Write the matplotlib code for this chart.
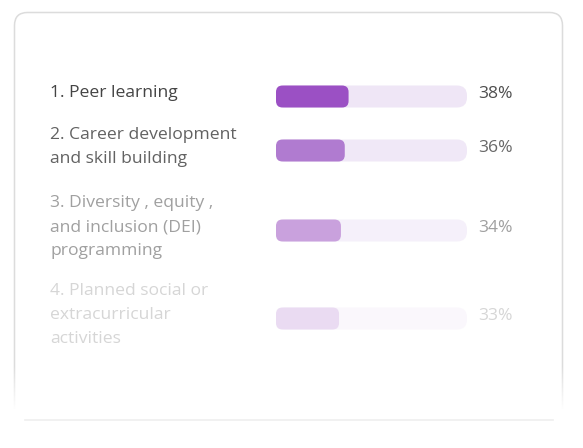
import matplotlib
matplotlib.use("Agg")
import matplotlib.pyplot as plt
from matplotlib.patches import FancyBboxPatch
from matplotlib.colors import LinearSegmentedColormap
import numpy as np

# ---- data ----
categories = [
    "1. Peer learning",
    "2. Career development\nand skill building",
    "3. Diversity , equity ,\nand inclusion (DEI)\nprogramming",
    "4. Planned social or\nextracurricular\nactivities",
]
values = [38, 36, 34, 33]
value_labels = ["38%", "36%", "34%", "33%"]

# ---- styles / layout ----
fill_colors = ["#9b50c4", "#b07bd0", "#c9a1dd", "#eadbf2"]
track_colors = ["#efe6f6", "#f0e8f7", "#f5f0fa", "#faf7fc"]
text_colors = ["#444444", "#626262", "#a0a0a0", "#d6d6d6"]
pct_colors = ["#4e4e4e", "#686868", "#a0a0a0", "#d6d6d6"]
row_text_y = [93, 147, 227, 315]     # pixel centres of label blocks
bar_offset = 3.5
bar_h = 22

W, H = 583, 448
fig = plt.figure(figsize=(W / 100, H / 100), dpi=100)
fig.patch.set_facecolor("white")

bg = fig.add_axes([0, 0, 1, 1])
bg.set_xlim(0, W)
bg.set_ylim(H, 0)
bg.axis("off")

# card
card = FancyBboxPatch((14.5, 12.5), 548, 420,
                      boxstyle="round,pad=0,rounding_size=13",
                      facecolor="white", edgecolor="#dcdcdc", lw=1.1, zorder=1)
bg.add_patch(card)
# fade the bottom of the card
grad = np.linspace(0, 1, 100).reshape(-1, 1)
cm = LinearSegmentedColormap.from_list("fade", [(1, 1, 1, 0), (1, 1, 1, 1)])
bg.imshow(grad, extent=(8, 570, 410, 365), origin="upper", cmap=cm,
          aspect="auto", zorder=2, interpolation="bilinear")
bg.add_patch(plt.Rectangle((8, 409), 562, 36, facecolor="white",
                           edgecolor="none", zorder=2))
bg.set_xlim(0, W)
bg.set_ylim(H, 0)
bg.plot([25, 553], [420.5, 420.5], color="#efefef", lw=1.2, zorder=3)

font = ["Open Sans", "DejaVu Sans"]
for cat, ty, tc in zip(categories, row_text_y, text_colors):
    bg.text(50, ty, cat, ha="left", va="center", fontsize=12.6, color=tc,
            family=font, linespacing=1.63, zorder=4)

# bar axes: x in percent
x0, x1 = 276, 467
bax = fig.add_axes([x0 / W, 0, (x1 - x0) / W, 1])
bax.set_xlim(0, 100)
bax.set_ylim(H, 0)
bax.axis("off")
bax.patch.set_alpha(0)
ux = 100 / (x1 - x0)          # x data units per pixel
ma = 1 / ux                   # mutation aspect
for v, lab, ty, fc, tc, pc in zip(values, value_labels, row_text_y,
                                  fill_colors, track_colors, pct_colors):
    cy = ty + bar_offset
    track = FancyBboxPatch((0, cy - bar_h / 2), 100, bar_h,
                           boxstyle=f"round,pad=0,rounding_size={10 * ux}",
                           mutation_aspect=ma, facecolor=tc, edgecolor="none", zorder=5)
    bax.add_patch(track)
    bar = FancyBboxPatch((0, cy - bar_h / 2), v, bar_h,
                         boxstyle=f"round,pad=0,rounding_size={6.5 * ux}",
                         mutation_aspect=ma, facecolor=fc, edgecolor="none", zorder=6)
    bax.add_patch(bar)
    bg.text(478, ty + 1, lab, ha="left", va="center", fontsize=12.6, color=pc,
            family=font, zorder=4)

fig.savefig("out.png", dpi=100, facecolor="white")
